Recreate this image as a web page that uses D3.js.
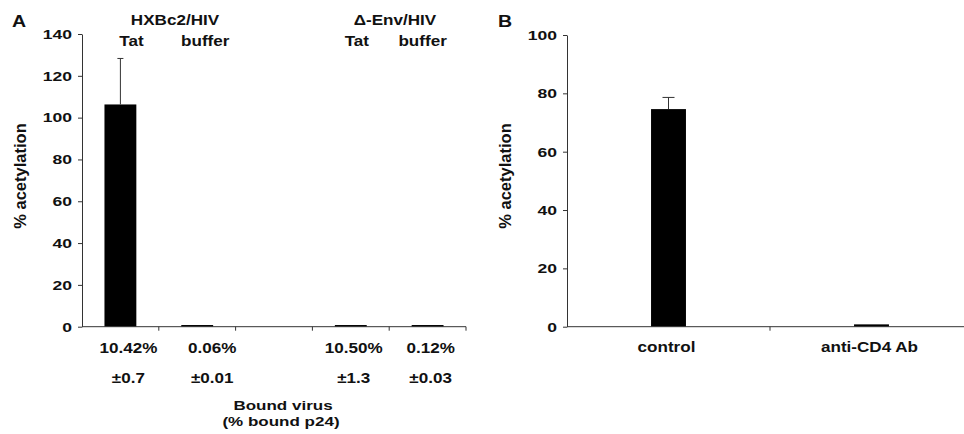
<!DOCTYPE html>
<html>
<head>
<meta charset="utf-8">
<script src="https://cdn.jsdelivr.net/npm/d3@7/dist/d3.min.js"></script>
<style>
  body { margin: 0; background: #fff; }
  svg { display: block; font-family: "Liberation Sans", Arial, sans-serif; }
  text { fill: #111; font-weight: bold; }
  .axis path, .axis line { stroke: #333; }
</style>
</head>
<body>
<svg id="chart" width="964" height="434"></svg>
<script>
// panel A data
const catsA = ["hxbTat", "hxbBuffer", "gap", "envTat", "envBuffer"];
const valuesA = [106.3, 0.8, null, 0.8, 0.8];
const errorsA = [22, 0, null, 0, 0];
const boundA = ["10.42%", "0.06%", "", "10.50%", "0.12%"];
const boundSdA = ["±0.7", "±0.01", "", "±1.3", "±0.03"];
const headerA = ["Tat", "buffer", "", "Tat", "buffer"];
const ticksA = [0, 20, 40, 60, 80, 100, 120, 140];

// panel B data
const catsB = ["control", "anti-CD4 Ab"];
const valuesB = [74.6, 0.8];
const errorsB = [4, 0];
const ticksB = [0, 20, 40, 60, 80, 100];

const svg = d3.select("#chart");
const SX = 1.22; // the figure's horizontal text is stretched

function label(g, str, x, y, size, anchor, sx) {
  return g.append("text")
    .attr("transform", "translate(" + x + "," + y + ") scale(" + (sx || SX) + ",1)")
    .attr("text-anchor", anchor || "middle")
    .style("font-size", size + "px")
    .text(str);
}

function yAxis(g, y, ticks, x0) {
  const ax = g.append("g")
    .attr("class", "axis")
    .attr("transform", "translate(" + x0 + ",0)")
    .call(d3.axisLeft(y).tickValues(ticks).tickSize(4).tickSizeOuter(0));
  ax.selectAll("text")
    .attr("x", -10 / 1.3)
    .attr("transform", "scale(1.3,1)")
    .style("font-size", "13.5px")
    .style("font-family", "Liberation Sans, Arial, sans-serif");
}

function xAxis(g, x, y0) {
  const r = x.range();
  g.append("line")
    .attr("x1", r[0]).attr("x2", r[1])
    .attr("y1", y0).attr("y2", y0)
    .attr("stroke", "#333");
  // ticks sit on the band boundaries
  const bounds = x.domain().slice(1).map(d => x(d)).concat([r[1]]);
  g.selectAll(".btick").data(bounds).enter().append("line")
    .attr("x1", d => d).attr("x2", d => d)
    .attr("y1", y0).attr("y2", y0 + 4)
    .attr("stroke", "#333");
}

function bars(g, x, y, cats, vals, errs, frac, cap) {
  const bw = x.bandwidth() * frac;
  const rows = cats.map((c, i) => ({ c: c, v: vals[i], e: errs[i] })).filter(d => d.v != null);
  g.selectAll(".bar").data(rows).enter().append("rect")
    .attr("x", d => x(d.c) + (x.bandwidth() - bw) / 2)
    .attr("y", d => y(d.v))
    .attr("width", bw)
    .attr("height", d => y(0) - y(d.v))
    .attr("fill", "#000");
  const er = rows.filter(d => d.e > 0);
  const cx = d => x(d.c) + x.bandwidth() / 2;
  g.selectAll(".err").data(er).enter().append("line")
    .attr("x1", cx).attr("x2", cx)
    .attr("y1", d => y(d.v)).attr("y2", d => y(d.v + d.e))
    .attr("stroke", "#333");
  g.selectAll(".cap").data(er).enter().append("line")
    .attr("x1", d => cx(d) - cap / 2).attr("x2", d => cx(d) + cap / 2)
    .attr("y1", d => y(d.v + d.e)).attr("y2", d => y(d.v + d.e))
    .attr("stroke", "#333");
}

// ---- Panel A ----
const gA = svg.append("g");
const xA = d3.scaleBand().domain(catsA).range([82, 466]).padding(0);
const yA = d3.scaleLinear().domain([0, 140]).range([326.7, 34]);

bars(gA, xA, yA, catsA, valuesA, errorsA, 0.415, 6);
xAxis(gA, xA, yA(0));
yAxis(gA, yA, ticksA, 82);

label(gA, "A", 12, 27, 17, "start", 1.15);
label(gA, "HXBc2/HIV", 175, 25, 14);
label(gA, "Δ-Env/HIV", 395, 25, 14);
const headShift = [11, 8, 0, 6, -5];
headerA.forEach((t, i) => {
  if (t) label(gA, t, xA(catsA[i]) + xA.bandwidth() / 2 + headShift[i], 46, 14);
});
const boundShift = [8, 15, 0, 3, 3];
boundA.forEach((t, i) => {
  if (!t) return;
  const cx = xA(catsA[i]) + xA.bandwidth() / 2 + boundShift[i];
  label(gA, t, cx, 353, 14);
  label(gA, boundSdA[i], cx, 383, 14);
});
label(gA, "Bound virus", 283, 410, 13.5, "middle", 1.26);
label(gA, "(% bound p24)", 281, 426, 13.5, "middle", 1.26);
gA.append("text")
  .attr("transform", "translate(26,176) rotate(-90)")
  .attr("text-anchor", "middle")
  .style("font-size", "16.5px")
  .text("% acetylation");

// ---- Panel B ----
const gB = svg.append("g");
const xB = d3.scaleBand().domain(catsB).range([567, 973]).padding(0);
const yB = d3.scaleLinear().domain([0, 100]).range([326.7, 35]);

bars(gB, xB, yB, catsB, valuesB, errorsB, 0.172, 12);
xAxis(gB, xB, yB(0));
yAxis(gB, yB, ticksB, 567);

label(gB, "B", 498, 27, 17, "start", 1.15);
catsB.forEach(c => label(gB, c, xB(c) + xB.bandwidth() / 2 - 2, 352, 14));
gB.append("text")
  .attr("transform", "translate(511,176) rotate(-90)")
  .attr("text-anchor", "middle")
  .style("font-size", "16.5px")
  .text("% acetylation");
</script>
</body>
</html>
